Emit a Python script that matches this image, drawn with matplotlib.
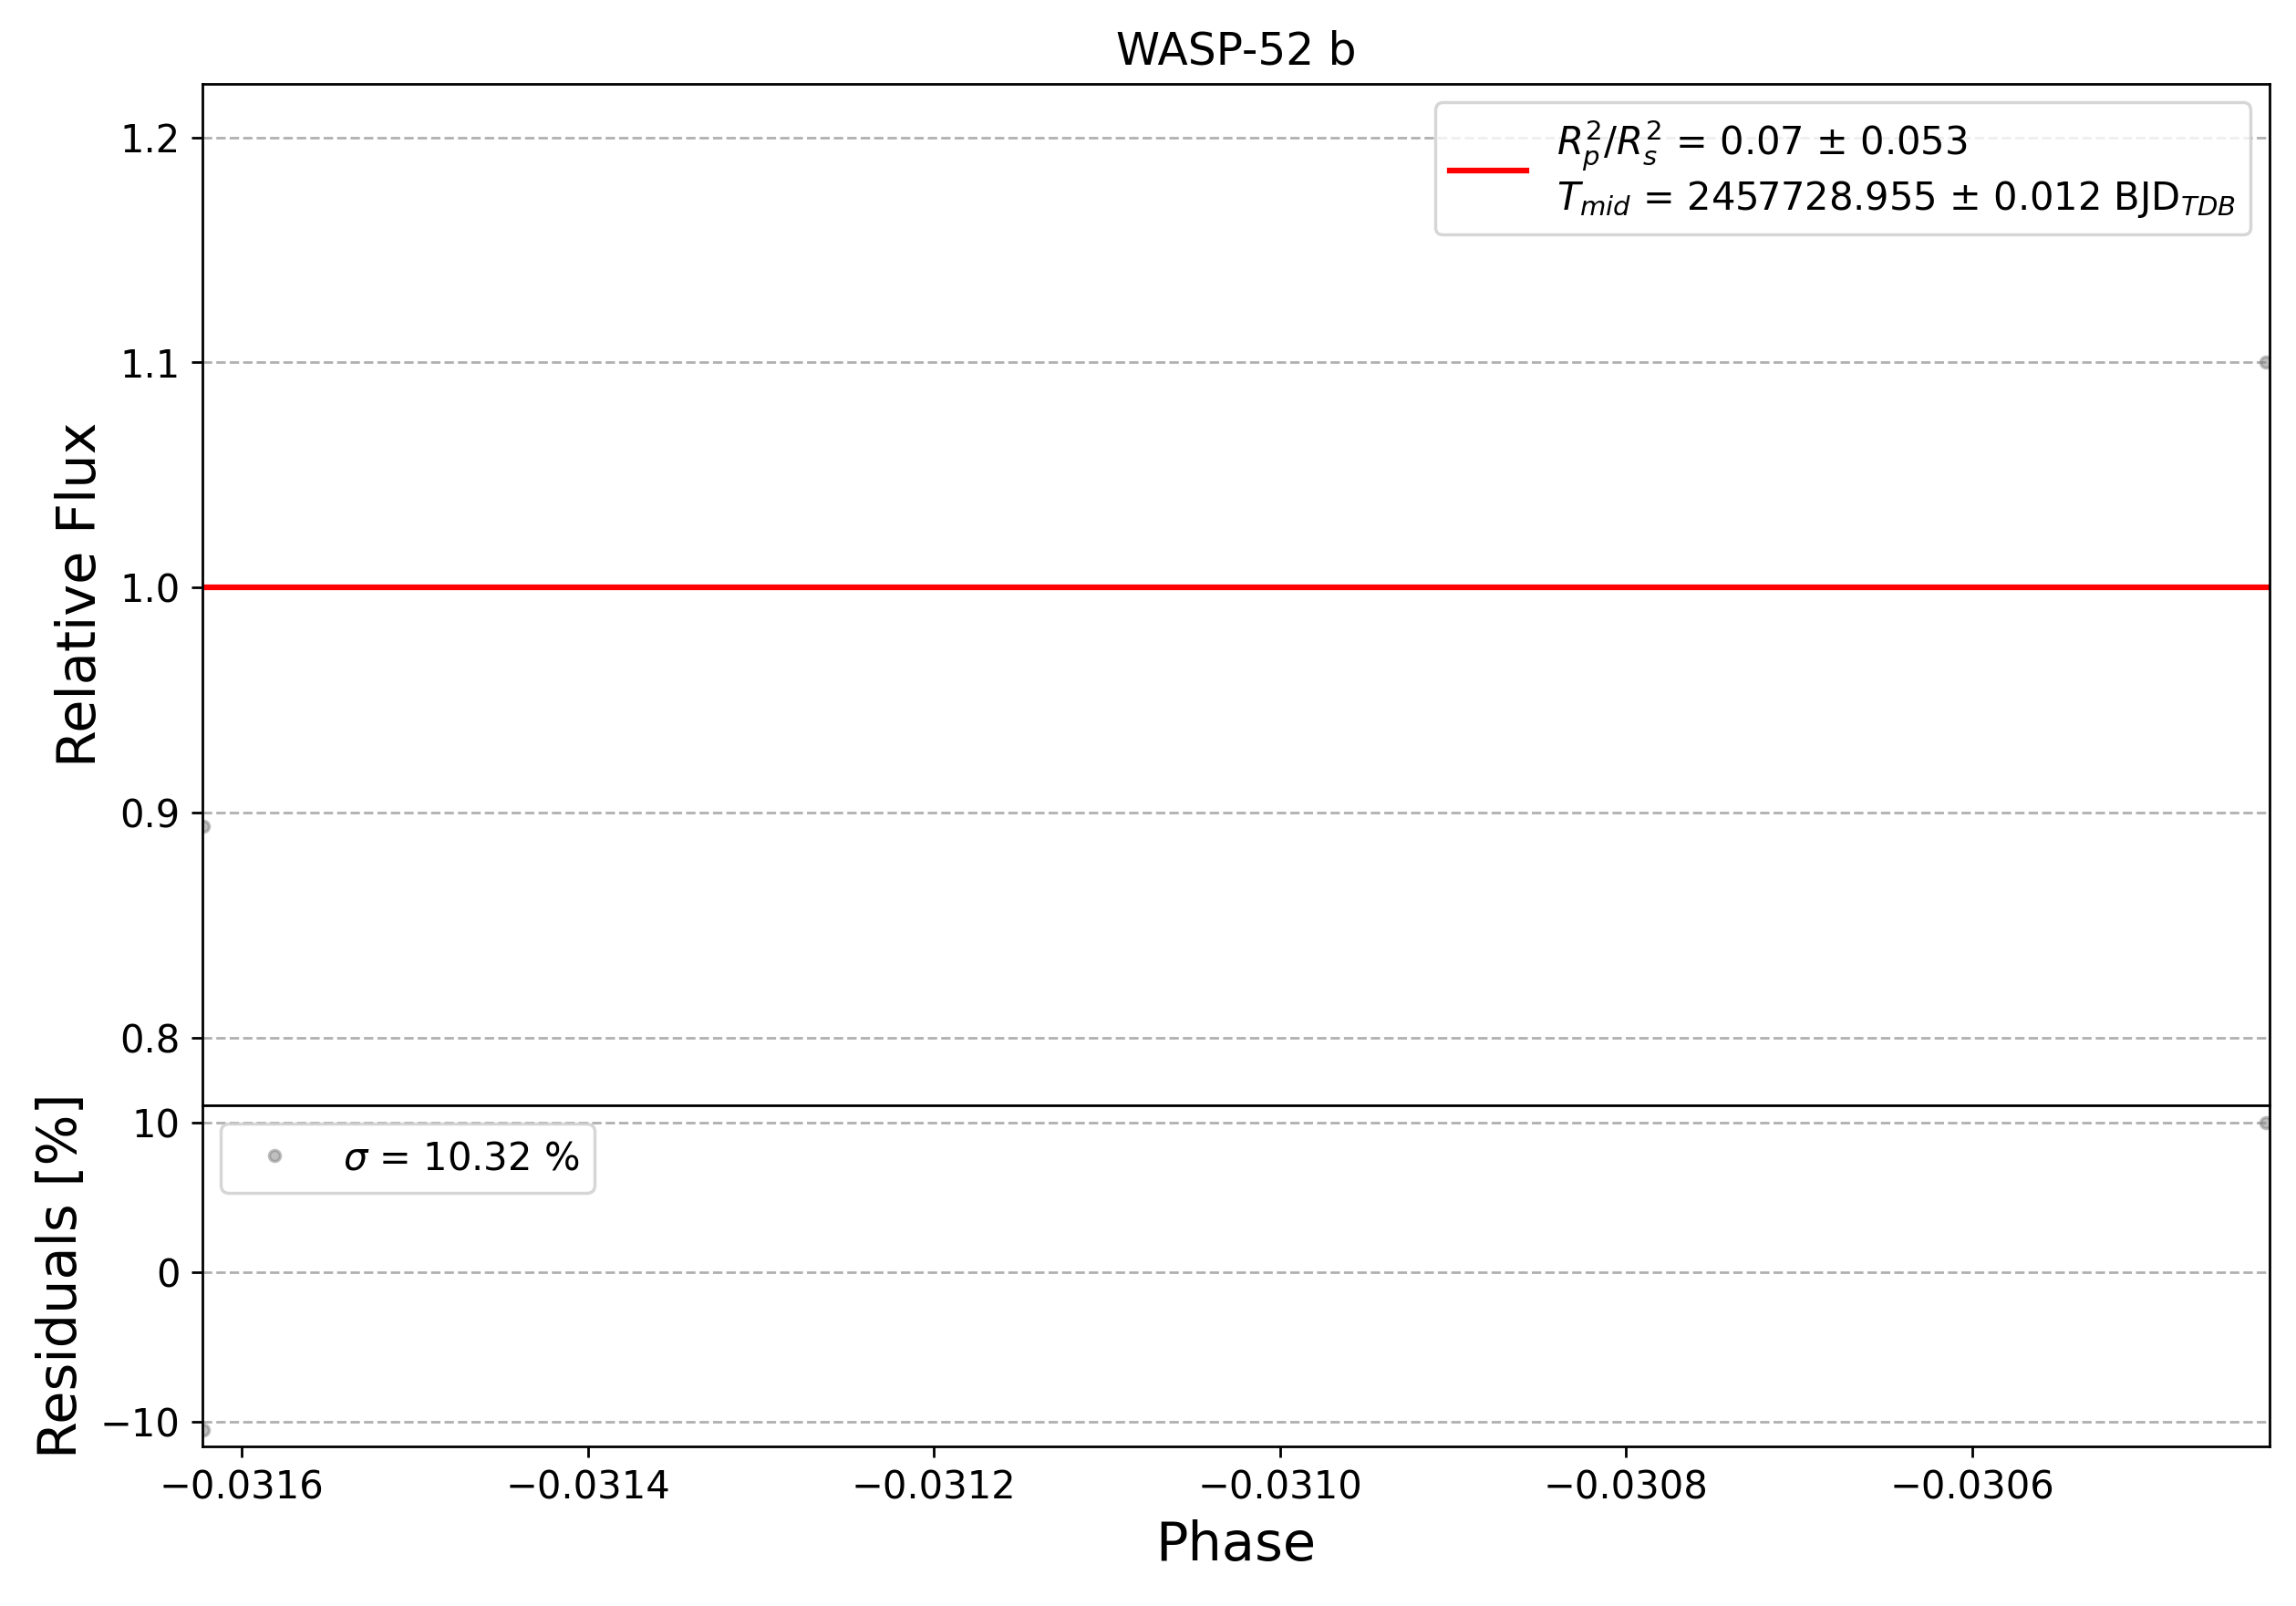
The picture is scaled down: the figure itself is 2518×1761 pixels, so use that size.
import numpy as np
import matplotlib
matplotlib.use("Agg")
import matplotlib.pyplot as plt

# data
phase = [-0.031622, -0.030430]
flux = [0.894, 1.100]
model_x = [-0.031623, -0.030428]
model_y = [1.0, 1.0]
resid = [-10.6, 10.0]

plt.rcParams['font.size'] = 12

fig = plt.figure(figsize=(10.072, 7.044), dpi=250)
ax1 = fig.add_axes([0.088, 0.312, 0.9005, 0.636])
ax2 = fig.add_axes([0.088, 0.0994, 0.9005, 0.2126], sharex=ax1)

ax1.plot(phase, flux, 'o', color='gray', alpha=0.5, ms=3.5)
ax1.plot(model_x, model_y, color='red', lw=1.8,
         label=r'$R_{p}^{2}/R_{s}^{2}$ = 0.07 $\pm$ 0.053' + '\n'
               r'$T_{mid}$ = 2457728.955 $\pm$ 0.012 BJD$_{TDB}$')
ax1.set_ylabel("Relative Flux", fontsize=17)
ax1.set_title("WASP-52 b", fontsize=14)
ax1.set_ylim(0.770, 1.224)
ax1.set_yticks([0.8, 0.9, 1.0, 1.1, 1.2])
ax1.grid(True, axis='y', ls='--')
ax1.legend(loc='upper right')
plt.setp(ax1.get_xticklabels(), visible=False)
ax1.tick_params(axis='x', length=0)

ax2.plot(phase, resid, 'o', color='gray', alpha=0.5, ms=3.5,
         label=r'$\sigma$ = 10.32 %')
ax2.set_ylim(-11.67, 11.18)
ax2.set_yticks([-10, 0, 10])
ax2.grid(True, axis='y', ls='--')
ax2.set_ylabel("Residuals [%]", fontsize=17)
ax2.set_xlabel("Phase", fontsize=17)
ax2.legend(loc='upper left')
ax2.set_xlim(-0.031623, -0.030428)

plt.savefig("out.png")
